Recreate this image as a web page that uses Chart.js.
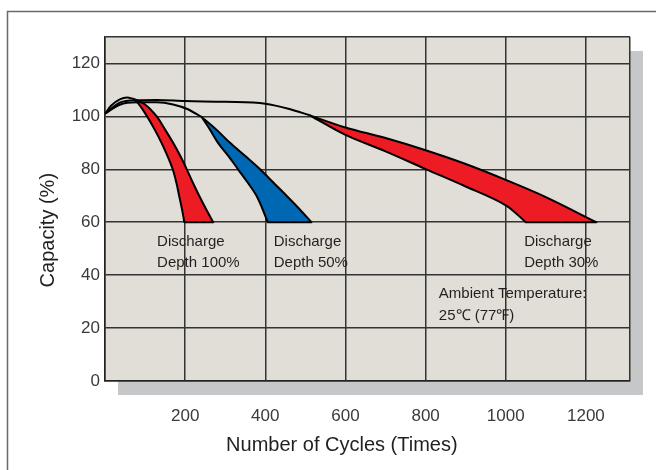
<!DOCTYPE html>
<html>
<head>
<meta charset="utf-8">
<script src="https://cdn.jsdelivr.net/npm/chart.js@4"></script>
<style>
  html, body { margin: 0; padding: 0; background: #ffffff; }
  #wrap { width: 656px; height: 470px; position: relative; }
</style>
</head>
<body>
<div id="wrap"><canvas id="c" width="656" height="470"></canvas></div>
<script>
// ---- tick values ----
const xTickValues = [0, 200, 400, 600, 800, 1000, 1200, 1310];
const yTickValues = [0, 20, 40, 60, 80, 100, 120, 130];

// ---- rising curves from the origin (cycles, capacity %) ----
const curveA_cycles   = [0, 15, 37, 55, 72];
const curveA_capacity = [101, 104, 106.4, 107.1, 106.6];
const curveB_cycles   = [0, 37, 80, 129, 170, 205, 241];
const curveB_capacity = [101, 104.4, 105.3, 105.3, 104.5, 102.8, 99.8];
const curveD_cycles   = [0, 37, 80, 129, 200, 300, 400, 460, 511];
const curveD_capacity = [101, 105.2, 106.1, 106.2, 105.8, 105.5, 104.8, 102.8, 100.4];

// ---- discharge bands: left (short-life) edge and right (long-life) edge, top to bottom ----
const band100_left_cycles    = [72, 85, 105, 124, 141, 156, 169, 178, 185, 192, 198];
const band100_left_capacity  = [106.6, 104.5, 100, 95, 90, 85, 80, 75, 70, 65, 60];
const band100_right_cycles   = [72, 100, 129, 150, 170, 188, 204, 219, 235, 252, 270];
const band100_right_capacity = [106.6, 104.5, 100, 95, 90, 85, 80, 75, 70, 65, 60];

const band50_left_cycles     = [241, 262, 282, 308, 332, 356, 378, 393, 406];
const band50_left_capacity   = [99.8, 95, 90, 85, 80, 75, 70, 65, 60];
const band50_right_cycles    = [241, 278, 312, 350, 387, 420, 453, 485, 515];
const band50_right_capacity  = [99.8, 95, 90, 85, 80, 75, 70, 65, 60];

const band30_lower_cycles    = [511, 600, 700, 800, 900, 1000, 1050];
const band30_lower_capacity  = [100.4, 93, 86.8, 80.1, 73.5, 66.4, 60];
const band30_upper_cycles    = [511, 600, 700, 800, 900, 1000, 1100, 1226];
const band30_upper_capacity  = [100.4, 95.8, 91.8, 87.2, 82, 76, 69.5, 60];

// ---- annotation texts (anchored in data units) ----
const annotationLines = [
  ['Discharge', 'Depth 100%'],
  ['Discharge', 'Depth 50%'],
  ['Discharge', 'Depth 30%'],
  ['Ambient Temperature:', '25\u2103 (77\u2109)']
];
const annotationX = [130, 421, 1046, 833];
const annotationY = [[52.6, 44.7], [52.6, 44.7], [52.6, 44.7], [33.1, 24.5]];

const xTitle = 'Number of Cycles (Times)';
const yTitle = 'Capacity (%)';

const pts = (xs, ys) => xs.map((x, i) => ({ x: x, y: ys[i] }));
// closed outline: edge1 down, bottom, edge2 back up; corners repeated so the spline keeps them sharp
const outline = (x1, y1, x2, y2) => {
  const a = pts(x1, y1), b = pts(x2, y2).reverse();
  return [a[0]].concat(a, [a[a.length - 1]], [b[0]], b, [b[b.length - 1]]);
};

const RED = '#ED1C24';
const BLUE = '#0067B2';
const INK = '#231F20';

const curveStyle = {
  type: 'line', borderColor: '#000', borderWidth: 2, pointRadius: 0,
  fill: false, cubicInterpolationMode: 'monotone'
};
const bandStyle = {
  type: 'line', borderColor: '#000', borderWidth: 2, pointRadius: 0,
  tension: 0.35, fill: 'shape', borderJoinStyle: 'round'
};

const backgroundPlugin = {
  id: 'bg',
  beforeDraw(chart) {
    const { ctx, chartArea: a } = chart;
    ctx.save();
    ctx.strokeStyle = '#6a6a6a';
    ctx.lineWidth = 1.5;
    ctx.beginPath();
    ctx.moveTo(7.5, 470);
    ctx.lineTo(7.5, 11.5);
    ctx.lineTo(656, 11.5);
    ctx.stroke();
    ctx.fillStyle = '#C6C7C9';
    ctx.fillRect(a.left + 13, a.top + 14, a.right - a.left, a.bottom - a.top);
    ctx.fillStyle = '#E1DED7';
    ctx.fillRect(a.left, a.top, a.right - a.left, a.bottom - a.top);
    ctx.restore();
  }
};

const textPlugin = {
  id: 'texts',
  afterDraw(chart) {
    const { ctx } = chart;
    const xs = chart.scales.x, ys = chart.scales.y;
    ctx.save();
    ctx.fillStyle = INK;
    ctx.font = '15px "Liberation Sans", Arial, sans-serif';
    ctx.textAlign = 'left';
    ctx.textBaseline = 'middle';
    annotationLines.forEach((lines, i) => {
      lines.forEach((t, j) => {
        ctx.fillText(t, xs.getPixelForValue(annotationX[i]), ys.getPixelForValue(annotationY[i][j]));
      });
    });
    ctx.font = '20px "Liberation Sans", Arial, sans-serif';
    ctx.textAlign = 'center';
    ctx.fillText(xTitle, xs.getPixelForValue(591), ys.bottom + 64);
    ctx.translate(ys.left + 48, ys.getPixelForValue(57));
    ctx.rotate(-Math.PI / 2);
    ctx.fillText(yTitle, 0, 0);
    ctx.restore();
  }
};

new Chart(document.getElementById('c'), {
  type: 'line',
  data: {
    datasets: [
      Object.assign({ data: pts(curveA_cycles, curveA_capacity) }, curveStyle),
      Object.assign({ data: pts(curveB_cycles, curveB_capacity) }, curveStyle),
      Object.assign({ data: pts(curveD_cycles, curveD_capacity) }, curveStyle),
      Object.assign({ data: outline(band100_left_cycles, band100_left_capacity, band100_right_cycles, band100_right_capacity), backgroundColor: RED }, bandStyle),
      Object.assign({ data: outline(band50_left_cycles, band50_left_capacity, band50_right_cycles, band50_right_capacity), backgroundColor: BLUE }, bandStyle),
      Object.assign({ data: outline(band30_lower_cycles, band30_lower_capacity, band30_upper_cycles, band30_upper_capacity), backgroundColor: RED }, bandStyle)
    ]
  },
  options: {
    responsive: false,
    animation: false,
    layout: { padding: { top: 37, right: 26, left: 0, bottom: 0 } },
    plugins: { legend: { display: false }, tooltip: { enabled: false }, title: { display: false } },
    scales: {
      x: {
        type: 'linear', min: 0, max: 1310,
        afterBuildTicks: s => { s.ticks = xTickValues.map(v => ({ value: v })); },
        afterFit: s => { s.height = 89; },
        grid: { color: '#333', lineWidth: 1.5, drawTicks: false },
        border: { color: '#222', width: 1.5 },
        ticks: {
          padding: 25, color: '#3a3a3a',
          font: { family: '"Liberation Sans", Arial, sans-serif', size: 17 },
          autoSkip: false, maxRotation: 0,
          callback: v => (v === 0 || v === 1310) ? '' : String(v)
        }
      },
      y: {
        type: 'linear', min: 0, max: 130,
        afterBuildTicks: s => { s.ticks = yTickValues.map(v => ({ value: v })); },
        afterFit: s => { s.width = 105; },
        grid: { color: '#333', lineWidth: 1.5, drawTicks: false },
        border: { color: '#222', width: 1.5 },
        ticks: {
          padding: 5, color: '#3a3a3a',
          font: { family: '"Liberation Sans", Arial, sans-serif', size: 17 },
          autoSkip: false,
          callback: v => v === 130 ? '' : String(v)
        }
      }
    }
  },
  plugins: [backgroundPlugin, textPlugin]
});
</script>
</body>
</html>
